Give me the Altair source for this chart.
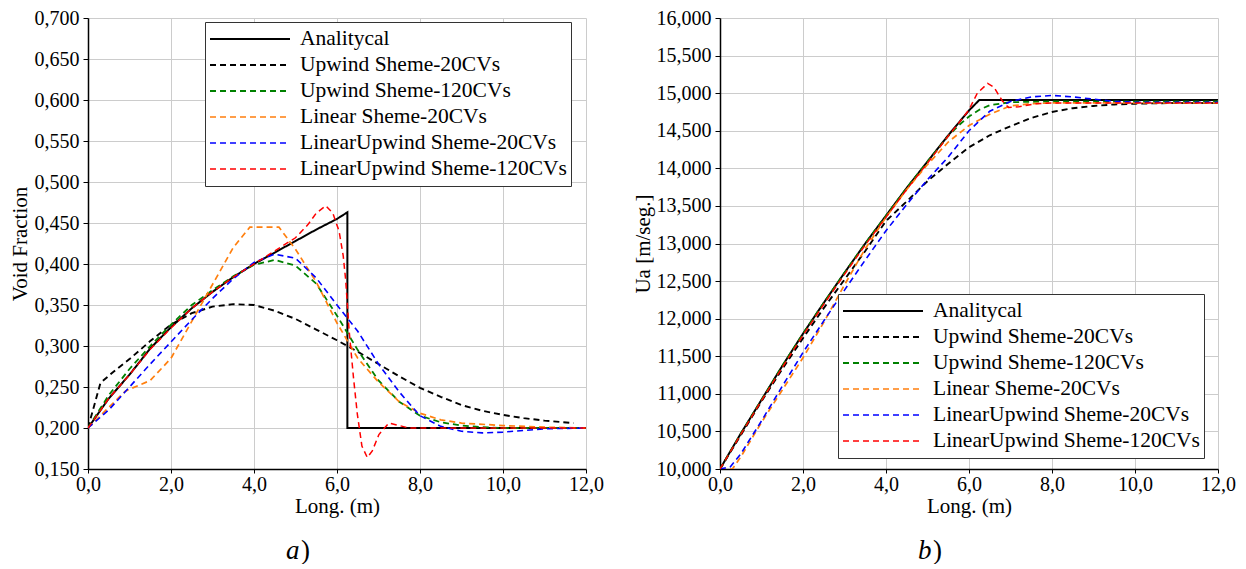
import altair as alt
import pandas as pd

FONT = "Liberation Serif"

series_names = ["Analitycal", "Upwind Sheme-20CVs", "Upwind Sheme-120CVs",
                "Linear Sheme-20CVs", "LinearUpwind Sheme-20CVs", "LinearUpwind Sheme-120CVs"]
series_colors = ["#000000", "#000000", "#008000", "#ff7f0e", "#0000ff", "#ff0000"]
series_dash = [[1, 0], [6, 4], [6, 4], [6, 4], [6, 4], [6, 4]]
series_width = [2, 1.5, 1.5, 1.5, 1.5, 1.5]

captions = ["a", "b"]
caption_close = ")"

# ---------------- panel a) : Void fraction ----------------
a_x = {
    "Analitycal": [0, 0.5, 1, 1.5, 2, 2.5, 3, 3.5, 4, 4.5, 5, 5.5, 6, 6.25, 6.25, 12],
    "Upwind Sheme-20CVs": [0, 0.3, 0.6, 1, 1.5, 2, 2.5, 3, 3.5, 4, 4.5, 5, 5.5, 6, 6.5, 7, 7.5, 8, 8.5, 9, 9.5, 10, 10.5, 11, 11.7],
    "Upwind Sheme-120CVs": [0, 0.5, 1, 1.5, 2, 2.5, 3, 3.5, 4, 4.5, 5, 5.5, 6, 6.5, 7, 7.5, 8, 8.5, 9, 9.5, 10, 12],
    "Linear Sheme-20CVs": [0, 0.5, 0.9, 1.5, 2, 2.5, 3, 3.5, 3.9, 4.6, 5, 5.5, 6, 6.5, 7, 7.5, 8, 8.5, 9, 10, 11, 12],
    "LinearUpwind Sheme-20CVs": [0, 0.5, 1, 1.5, 2, 2.5, 3, 3.5, 4, 4.5, 5, 5.5, 6, 6.5, 7, 7.5, 8, 8.5, 9, 9.5, 10, 10.5, 11, 12],
    "LinearUpwind Sheme-120CVs": [0, 0.5, 1, 1.5, 2, 2.5, 3, 3.5, 4, 4.5, 5, 5.3, 5.5, 5.73, 5.9, 6.05, 6.15, 6.21, 6.29, 6.4, 6.49, 6.6, 6.73, 6.85, 7.01, 7.25, 7.5, 7.73, 12],
}
a_y = {
    "Analitycal": [0.2, 0.236, 0.265, 0.297, 0.323, 0.346, 0.366, 0.384, 0.400, 0.414, 0.428, 0.442, 0.455, 0.463, 0.2, 0.2],
    "Upwind Sheme-20CVs": [0.2, 0.255, 0.268, 0.284, 0.306, 0.326, 0.340, 0.348, 0.351, 0.350, 0.343, 0.333, 0.320, 0.307, 0.293, 0.278, 0.263, 0.249, 0.238, 0.228, 0.221, 0.216, 0.212, 0.209, 0.206],
    "Upwind Sheme-120CVs": [0.2, 0.240, 0.272, 0.300, 0.326, 0.350, 0.368, 0.385, 0.399, 0.405, 0.398, 0.376, 0.337, 0.295, 0.258, 0.232, 0.215, 0.207, 0.203, 0.201, 0.2, 0.2],
    "Linear Sheme-20CVs": [0.2, 0.225, 0.245, 0.258, 0.285, 0.330, 0.375, 0.420, 0.445, 0.445, 0.418, 0.378, 0.328, 0.285, 0.256, 0.232, 0.218, 0.210, 0.206, 0.203, 0.201, 0.2],
    "LinearUpwind Sheme-20CVs": [0.2, 0.222, 0.250, 0.278, 0.305, 0.332, 0.358, 0.382, 0.402, 0.412, 0.407, 0.383, 0.350, 0.318, 0.278, 0.244, 0.215, 0.202, 0.196, 0.194, 0.195, 0.197, 0.199, 0.2],
    "LinearUpwind Sheme-120CVs": [0.2, 0.236, 0.265, 0.296, 0.322, 0.346, 0.366, 0.384, 0.400, 0.416, 0.432, 0.448, 0.462, 0.471, 0.462, 0.440, 0.410, 0.380, 0.320, 0.260, 0.217, 0.178, 0.164, 0.172, 0.192, 0.206, 0.203, 0.2, 0.2],
}

# ---------------- panel b) : Ua ----------------
b_x = {
    "Analitycal": [0, 0.5, 1, 1.5, 2, 2.5, 3, 3.5, 4, 4.5, 5, 5.5, 6, 6.25, 12],
    "Upwind Sheme-20CVs": [0, 0.5, 1, 1.5, 2, 2.5, 3, 3.5, 4, 4.5, 5, 5.5, 6, 6.5, 7, 7.5, 8, 8.5, 9, 9.5, 10, 11, 12],
    "Upwind Sheme-120CVs": [0, 0.5, 1, 1.5, 2, 2.5, 3, 3.5, 4, 4.5, 5, 5.5, 5.75, 6, 6.25, 6.5, 7, 8, 12],
    "Linear Sheme-20CVs": [0, 0.3, 0.5, 1, 1.5, 2, 2.5, 3, 3.5, 4, 4.5, 5, 5.5, 6, 6.5, 7, 7.5, 8, 12],
    "LinearUpwind Sheme-20CVs": [0, 0.25, 0.5, 1, 1.5, 2, 2.5, 3, 3.5, 4, 4.5, 5, 5.5, 6, 6.5, 7, 7.5, 8, 8.5, 9, 9.5, 10, 12],
    "LinearUpwind Sheme-120CVs": [0, 0.5, 1, 1.5, 2, 2.5, 3, 3.5, 4, 4.5, 5, 5.5, 5.75, 6, 6.2, 6.45, 6.6, 6.8, 6.95, 7.2, 7.6, 8, 12],
}
b_y = {
    "Analitycal": [10.0, 10.47, 10.92, 11.37, 11.80, 12.21, 12.61, 13.00, 13.37, 13.74, 14.09, 14.44, 14.77, 14.91, 14.91],
    "Upwind Sheme-20CVs": [10.0, 10.45, 10.90, 11.33, 11.74, 12.14, 12.52, 12.90, 13.30, 13.56, 13.83, 14.06, 14.28, 14.44, 14.56, 14.67, 14.75, 14.80, 14.83, 14.85, 14.86, 14.87, 14.87],
    "Upwind Sheme-120CVs": [10.0, 10.47, 10.92, 11.37, 11.80, 12.21, 12.61, 13.00, 13.37, 13.74, 14.09, 14.43, 14.57, 14.69, 14.78, 14.84, 14.88, 14.89, 14.89],
    "Linear Sheme-20CVs": [10.0, 10.0, 10.16, 10.62, 11.05, 11.48, 11.95, 12.45, 12.93, 13.35, 13.72, 14.05, 14.35, 14.57, 14.72, 14.83, 14.86, 14.87, 14.87],
    "LinearUpwind Sheme-20CVs": [10.0, 10.03, 10.20, 10.64, 11.10, 11.55, 11.97, 12.38, 12.78, 13.17, 13.52, 13.85, 14.15, 14.50, 14.76, 14.89, 14.95, 14.97, 14.95, 14.92, 14.89, 14.88, 14.88],
    "LinearUpwind Sheme-120CVs": [10.0, 10.46, 10.91, 11.35, 11.78, 12.19, 12.59, 12.98, 13.35, 13.72, 14.07, 14.43, 14.60, 14.78, 15.00, 15.13, 15.08, 14.90, 14.81, 14.82, 14.86, 14.87, 14.87],
}


def long_frame(xs, ys):
    rows = []
    for name in series_names:
        for i, (xv, yv) in enumerate(zip(xs[name], ys[name])):
            rows.append({"series": name, "x": xv, "y": yv, "i": i})
    return pd.DataFrame(rows)


def make_panel(df, ydom, ystep, ytitle, ytitle_pad, legend_x, legend_y, caption):
    legend = alt.Legend(
        title=None, orient="none", legendX=legend_x, legendY=legend_y,
        symbolType="stroke", symbolSize=6400, symbolStrokeWidth=1.5,
        clipHeight=26, rowPadding=0, labelFont=FONT, labelFontSize=21.5,
        labelColor="black", labelOffset=9, padding=4, fillColor="white",
        strokeColor="#333333", labelLimit=500,
    )
    color = alt.Color("series:N", scale=alt.Scale(domain=series_names, range=series_colors), legend=legend)
    dash = alt.StrokeDash("series:N", scale=alt.Scale(domain=series_names, range=series_dash), legend=legend)
    width = alt.StrokeWidth("series:N", scale=alt.Scale(domain=series_names, range=series_width), legend=None)
    nticks = int(round((ydom[1] - ydom[0]) / ystep)) + 1
    yvals = [round(ydom[0] + k * ystep, 4) for k in range(nticks)]
    lines = alt.Chart(df).mark_line(clip=True).encode(
        x=alt.X("x:Q", scale=alt.Scale(domain=[0, 12], nice=False),
                axis=alt.Axis(title="Long. (m)", values=[0, 2, 4, 6, 8, 10, 12],
                              labelExpr="replace(format(datum.value, '.1f'), '.', ',')",
                              labelFlush=False, tickSize=4, labelPadding=1,
                              titlePadding=1)),
        y=alt.Y("y:Q", scale=alt.Scale(domain=ydom, nice=False, zero=False),
                axis=alt.Axis(title=ytitle, values=yvals,
                              labelExpr="replace(format(datum.value, '.3f'), '.', ',')",
                              titlePadding=ytitle_pad)),
        color=color, strokeDash=dash, strokeWidth=width, order="i:Q",
    )
    cap_df = pd.DataFrame({"t": [caption], "c": [caption_close]})
    cap_a = alt.Chart(cap_df).mark_text(font=FONT, fontSize=27, fontStyle="italic",
                                        align="left", baseline="alphabetic", color="black").encode(
        x=alt.value(198), y=alt.value(541), text="t:N")
    cap_b = alt.Chart(cap_df).mark_text(font=FONT, fontSize=27,
                                        align="left", baseline="alphabetic", color="black").encode(
        x=alt.value(213), y=alt.value(541), text="c:N")
    return alt.layer(lines, cap_a, cap_b).properties(width=498, height=451)


panel_a = make_panel(long_frame(a_x, a_y), [0.15, 0.7], 0.05, "Void Fraction", 4, 117, 4, captions[0])
panel_b = make_panel(long_frame(b_x, b_y), [10.0, 16.0], 0.5, "Ua [m/seg.]", 3, 118, 276, captions[1])

chart = alt.hconcat(panel_a, panel_b, spacing=28).resolve_scale(
    color="independent", strokeDash="independent", strokeWidth="independent"
).resolve_legend(
    color="independent", strokeDash="independent"
).properties(
    padding={"left": 1, "top": 0, "right": 0, "bottom": 0}
).configure_view(stroke=None).configure_axis(
    labelFont=FONT, labelFontSize=20, labelColor="black",
    titleFont=FONT, titleFontSize=21, titleFontWeight="normal", titleColor="black",
    domainColor="black", domainWidth=1.5, tickColor="black", tickSize=5,
    labelPadding=4, gridColor="#cccccc", gridWidth=1,
)

chart.save("out.html", embed_options={"renderer": "svg", "actions": False})
